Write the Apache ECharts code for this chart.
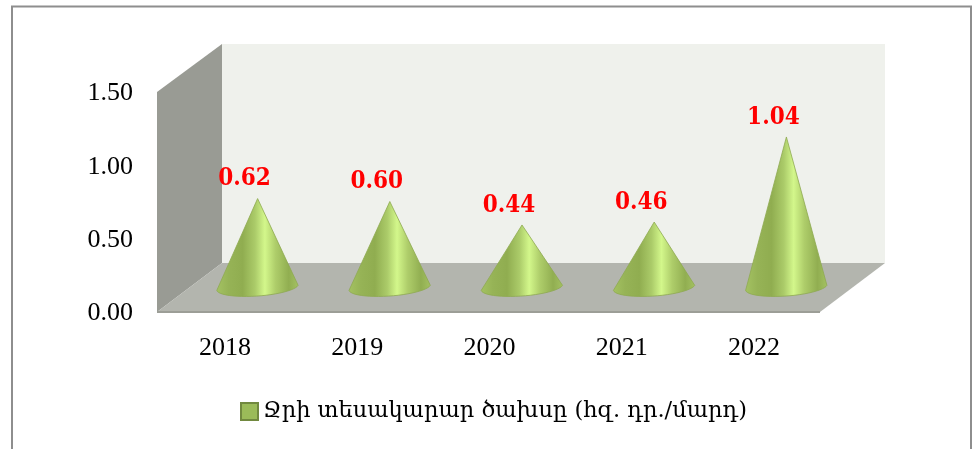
<!DOCTYPE html>
<html><head><meta charset="utf-8">
<style>html,body{margin:0;padding:0;background:#fff}#c{width:979px;height:449px}</style>
<script src="https://cdn.jsdelivr.net/npm/echarts@6/dist/echarts.min.js"></script>
</head><body><div id="c"></div>
<script>
const categories = ['2018','2019','2020','2021','2022'];
const values = [0.62,0.60,0.44,0.46,1.04];
const seriesName = 'Ջրի տեսակարար ծախսը (հզ. դր./մարդ)';
const yTicks = {min:0,max:1.5,interval:0.5};

const chart = echarts.init(document.getElementById('c'),null,{renderer:'canvas'});
const depthX = 34.5, depthY = 22.5;
const coneGrad = {type:'linear',x:0,y:0,x2:1,y2:0,colorStops:[
 {offset:0,color:'#a4c262'},{offset:0.15,color:'#96b356'},{offset:0.32,color:'#90ad50'},
 {offset:0.47,color:'#abcb69'},{offset:0.59,color:'#d3f78b'},{offset:0.72,color:'#aecd6a'},
 {offset:0.88,color:'#91ae51'},{offset:1,color:'#a4c262'}]};
function renderCone(params,api){
  const i = api.value(0), v = api.value(1);
  const top = api.coord([i,v]), base = api.coord([i,0]);
  const cx = base[0]+depthX, cy = base[1]-depthY-2.5;
  const ax = cx, ay = top[1]-depthY;
  const a=41,b=9,th=-4.2*Math.PI/180;
  const pts=[[ax,ay]];
  for(let k=0;k<=24;k++){
    const t=0.15+(Math.PI-0.2)*k/24, ex=a*Math.cos(t), ey=b*Math.sin(t);
    pts.push([cx+ex*Math.cos(th)-ey*Math.sin(th), cy+ex*Math.sin(th)+ey*Math.cos(th)]);
  }
  return {type:'group',children:[
    {type:'polygon',shape:{points:pts},style:{fill:coneGrad,stroke:'#8eaa50',lineWidth:0.8}},
    {type:'text',style:{text:v.toFixed(2),x:ax-13,y:ay-19.5,align:'center',verticalAlign:'middle',
      fill:'#ff0000',font:'bold 24px "DejaVu Serif Condensed","DejaVu Serif"'}}
  ]};
}
chart.setOption({
  animation:false,
  backgroundColor:'#fff',
  grid:{left:157,right:161,top:92,bottom:137},
  xAxis:{type:'category',data:categories,axisLine:{show:false},axisTick:{show:false},
    axisLabel:{margin:23,color:'#000',fontFamily:'Liberation Serif',fontSize:26,padding:[0,0,0,4]}},
  yAxis:{type:'value',min:yTicks.min,max:yTicks.max,interval:yTicks.interval,splitLine:{show:false},
    axisLine:{show:false},axisTick:{show:false},
    axisLabel:{margin:24,color:'#000',fontFamily:'Liberation Serif',fontSize:26,
      formatter:v=>'{v|'+v.toFixed(2)+'}',
      rich:{v:{fontFamily:'Liberation Serif',fontSize:26,color:'#000',padding:[3,0,0,0]}}}},
  legend:{show:true,left:235,top:395,icon:'rect',itemWidth:17,itemHeight:17,itemGap:6,
    textStyle:{color:'#000',fontFamily:'DejaVu Serif',fontSize:22.5},
    data:[{name:seriesName,itemStyle:{color:'#9bbb59',borderColor:'#71893f',borderWidth:2}}]},
  graphic:[
    {type:'rect',z:-5,shape:{x:12,y:6.5,width:959,height:460},style:{fill:'#fff',stroke:'#8e8e8e',lineWidth:2}},
    {type:'polygon',z:-4,shape:{points:[[222,44],[885,44],[885,263],[222,263]]},style:{fill:'#eff1ec'}},
    {type:'polygon',z:-4,shape:{points:[[157,92],[222,44],[222,263],[157,312]]},style:{fill:'#999b94'}},
    {type:'polygon',z:-4,shape:{points:[[222,263],[885,263],[820,312],[157,312]]},style:{fill:'#b3b5ae'}},
    {type:'rect',z:-3,shape:{x:157,y:311,width:663,height:2},style:{fill:'#9c9e97'}}
  ],
  series:[{type:'custom',name:seriesName,coordinateSystem:'cartesian2d',
    encode:{x:0,y:1},
    data:values.map((v,i)=>[i,v]),renderItem:renderCone,clip:false,
    itemStyle:{color:'#9bbb59'}}]
});
</script></body></html>
